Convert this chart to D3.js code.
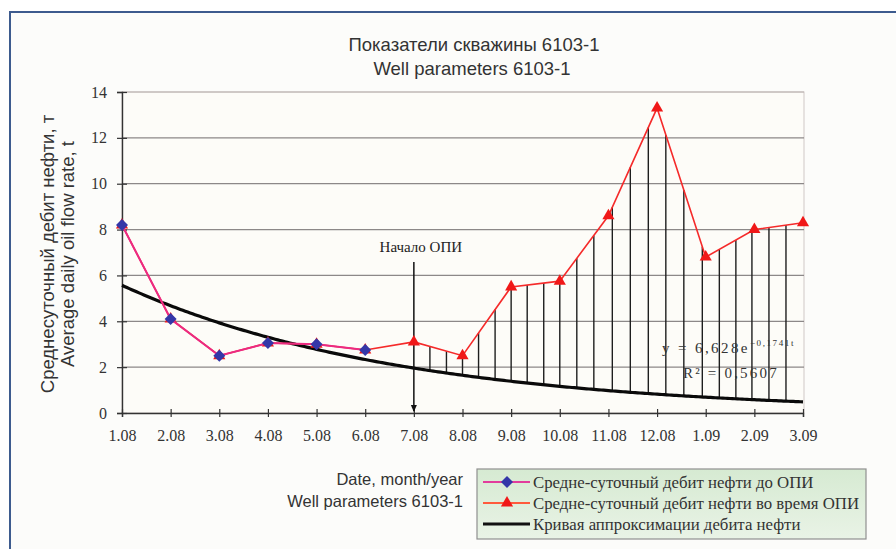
<!DOCTYPE html>
<html>
<head>
<meta charset="utf-8">
<script src="https://cdn.jsdelivr.net/npm/d3@7"></script>
<style>
  html, body { margin: 0; padding: 0; background: #ffffff; }
  svg { display: block; }
</style>
</head>
<body>
<svg id="chart" width="896" height="549"></svg>
<script>
// Months on the x axis
const months = ["1.08","2.08","3.08","4.08","5.08","6.08","7.08","8.08","9.08","10.08","11.08","12.08","1.09","2.09","3.09"];
// Average daily oil rate before the pilot works (first six months)
const rateBefore = [8.2, 4.1, 2.5, 3.05, 3.0, 2.75];
// Average daily oil rate over the whole period, incl. the pilot works
const rateDuring = [8.2, 4.1, 2.5, 3.05, 3.0, 2.75, 3.1, 2.5, 5.5, 5.75, 8.6, 13.3, 6.8, 8.0, 8.3];
// Exponential trend: q = a * exp(-b * t), t = month number
const trendA = 6.628;
const trendB = 0.1741;
const trendR2 = "0,5607";
// Hatch positions (month index) between trend curve and the rate line
const hatchAt = [6.33, 6.67, 7.0, 7.33, 7.67, 8.0, 8.33, 8.67, 9.0, 9.35, 9.7, 10.08, 10.45, 10.82, 11.18, 11.55, 11.93, 12.28, 12.62, 12.95, 13.3, 13.65];
const yTicks = [0, 2, 4, 6, 8, 10, 12, 14];
const pilotStart = 6; // index of 7.08

const svg = d3.select("#chart");
const defs = svg.append("defs");
const serif = "Liberation Serif, 'Times New Roman', serif";
const sans = "Liberation Sans, Arial, sans-serif";

// outer panel
svg.append("rect").attr("x", 10).attr("y", 12).attr("width", 900).attr("height", 560)
  .attr("fill", "#fcfcfa").attr("stroke", "#3d5b8e").attr("stroke-width", 2);

const x = d3.scaleLinear().domain([0, months.length - 1]).range([122, 803]);
const y = d3.scaleLinear().domain([0, 14]).range([413, 92]);

// plot area
svg.append("rect").attr("x", x(0)).attr("y", y(14)).attr("width", x(14) - x(0) + 1).attr("height", y(0) - y(14))
  .attr("fill", "#fdfcf8").attr("stroke", "#cfc8c6").attr("stroke-width", 1);

// horizontal grid
svg.append("g").selectAll("line").data(yTicks.filter(d => d > 0)).join("line")
  .attr("x1", x(0)).attr("x2", x(14) + 1)
  .attr("y1", d => y(d)).attr("y2", d => y(d))
  .attr("stroke", d => d === 14 ? "#b8b0ae" : "#8c8888").attr("stroke-width", 1.2);

// trend curve
const trend = t => trendA * Math.exp(-trendB * (t + 1));
const curvePts = d3.range(0, 14.001, 0.05);
const lineTrend = d3.line().x(d => x(d)).y(d => y(trend(d)));

// rate interpolation for hatching
const rateAt = t => {
  const i = Math.min(Math.floor(t), rateDuring.length - 2);
  const f = t - i;
  return rateDuring[i] + (rateDuring[i + 1] - rateDuring[i]) * f;
};
svg.append("g").selectAll("line").data(hatchAt).join("line")
  .attr("x1", d => x(d)).attr("x2", d => x(d))
  .attr("y1", d => y(rateAt(d))).attr("y2", d => y(trend(d)))
  .attr("stroke", "#1e1e1e").attr("stroke-width", 1.4);

// y axis
const yAxis = svg.append("g").attr("transform", `translate(${x(0)},0)`)
  .call(d3.axisLeft(y).tickValues(yTicks).tickSize(5).tickPadding(10).tickFormat(d3.format("d")));
yAxis.select(".domain").attr("stroke", "#333").attr("stroke-width", 1.4);
yAxis.selectAll(".tick line").attr("x1", -5).attr("x2", 5).attr("stroke", "#333").attr("stroke-width", 1.2);
yAxis.selectAll(".tick text").attr("font-family", serif).attr("font-size", 16).attr("fill", "#333");

// x axis
const xAxis = svg.append("g").attr("transform", `translate(0,${y(0)})`)
  .call(d3.axisBottom(x).tickValues(d3.range(months.length)).tickSize(4).tickPadding(13).tickFormat(i => months[i]));
xAxis.select(".domain").attr("stroke", "#333").attr("stroke-width", 1.4);
xAxis.selectAll(".tick line").attr("y1", -4).attr("y2", 4).attr("stroke", "#333").attr("stroke-width", 1.2);
xAxis.selectAll(".tick text").attr("font-family", serif).attr("font-size", 16).attr("fill", "#333");

// trend curve on top of hatching
svg.append("path").datum(curvePts).attr("d", lineTrend)
  .attr("fill", "none").attr("stroke", "#0a0a0a").attr("stroke-width", 3.2);

// pilot-start marker
svg.append("line").attr("x1", x(pilotStart)).attr("x2", x(pilotStart))
  .attr("y1", 262).attr("y2", y(0) - 2)
  .attr("stroke", "#111").attr("stroke-width", 1.5);
svg.append("path")
  .attr("d", `M${x(pilotStart) - 3},${y(0) - 8} L${x(pilotStart) + 3},${y(0) - 8} L${x(pilotStart)},${y(0) - 1} Z`)
  .attr("fill", "#111");
svg.append("text").attr("x", x(pilotStart) + 7).attr("y", 252).attr("text-anchor", "middle")
  .attr("font-family", serif).attr("font-size", 15).attr("fill", "#222")
  .text("Начало ОПИ");

// rate during pilot works
const lineRate = d3.line().x((d, i) => x(i)).y(d => y(d));
svg.append("path").datum(rateDuring).attr("d", lineRate)
  .attr("fill", "none").attr("stroke", "#f52a2a").attr("stroke-width", 1.6);
const tri = d3.symbol().type(d3.symbolTriangle).size(64);
svg.append("g").selectAll("path").data(rateDuring).join("path")
  .attr("d", tri).attr("transform", (d, i) => `translate(${x(i)},${y(d)})`)
  .attr("fill", "#f01818");

// rate before pilot works
svg.append("path").datum(rateBefore).attr("d", lineRate)
  .attr("fill", "none").attr("stroke", "#ec2a82").attr("stroke-width", 2);
const squareDiamond = {
  draw(ctx, size) {
    const r = Math.sqrt(size / 2);
    ctx.moveTo(0, -r); ctx.lineTo(r, 0); ctx.lineTo(0, r); ctx.lineTo(-r, 0); ctx.closePath();
  }
};
const dia = d3.symbol().type(squareDiamond).size(72);
svg.append("g").selectAll("path").data(rateBefore).join("path")
  .attr("d", dia).attr("transform", (d, i) => `translate(${x(i)},${y(d)})`)
  .attr("fill", "#3437a8");

// trend equation
const eq = svg.append("text").attr("x", 662).attr("y", 353)
  .attr("font-family", serif).attr("font-size", 15).attr("fill", "#333")
  .attr("letter-spacing", 2.4);
eq.append("tspan").text(`y = ${String(trendA).replace(".", ",")}e`);
eq.append("tspan").attr("dy", -7).attr("font-size", 9).attr("letter-spacing", 1.6)
  .text(`\u2212${String(trendB).replace(".", ",")}t`);
svg.append("text").attr("x", 683).attr("y", 378)
  .attr("font-family", serif).attr("font-size", 15).attr("fill", "#333")
  .attr("letter-spacing", 2.2).text(`R² = ${trendR2}`);

// titles
svg.append("text").attr("x", 474).attr("y", 51).attr("text-anchor", "middle")
  .attr("font-family", sans).attr("font-size", 18.5).attr("fill", "#333").text("Показатели скважины 6103-1");
svg.append("text").attr("x", 472).attr("y", 75).attr("text-anchor", "middle")
  .attr("font-family", sans).attr("font-size", 18.5).attr("fill", "#333").text("Well parameters 6103-1");

const yt = svg.append("text").attr("transform", "translate(0,254) rotate(-90)")
  .attr("text-anchor", "middle").attr("font-family", sans).attr("font-size", 18.5).attr("fill", "#333");
yt.append("tspan").attr("x", 0).attr("y", 54).text("Среднесуточный дебит нефти, т");
yt.append("tspan").attr("x", 0).attr("y", 74).text("Average daily oil flow rate, t");

svg.append("text").attr("x", 463).attr("y", 485).attr("text-anchor", "end")
  .attr("font-family", sans).attr("font-size", 16.5).attr("fill", "#333").text("Date, month/year");
svg.append("text").attr("x", 463).attr("y", 507).attr("text-anchor", "end")
  .attr("font-family", sans).attr("font-size", 16.5).attr("fill", "#333").text("Well parameters 6103-1");

// legend
const grad = defs.append("linearGradient").attr("id", "legBg")
  .attr("x1", 0).attr("y1", 0).attr("x2", 0).attr("y2", 1);
grad.append("stop").attr("offset", "0%").attr("stop-color", "#d6ead2");
grad.append("stop").attr("offset", "100%").attr("stop-color", "#e9f3e6");
const leg = svg.append("g").attr("transform", "translate(477,469)");
leg.append("rect").attr("width", 389).attr("height", 70).attr("fill", "url(#legBg)")
  .attr("stroke", "#8f8f8f").attr("stroke-width", 1.2);
const legItems = [
  { label: "Средне-суточный дебит нефти до ОПИ", color: "#e23c9c", mark: dia, markColor: "#3437a8", w: 2 },
  { label: "Средне-суточный дебит нефти во время ОПИ", color: "#ff5a3c", mark: tri, markColor: "#f01818", w: 2 },
  { label: "Кривая аппроксимации дебита нефти", color: "#111", mark: null, w: 3.2 }
];
const row = leg.selectAll("g.row").data(legItems).join("g").attr("class", "row")
  .attr("transform", (d, i) => `translate(0,${13 + i * 21})`);
row.append("line").attr("x1", 6).attr("x2", 53).attr("stroke", d => d.color).attr("stroke-width", d => d.w);
row.filter(d => d.mark).append("path").attr("d", d => d.mark()).attr("transform", "translate(30,0)")
  .attr("fill", d => d.markColor);
row.append("text").attr("x", 56).attr("y", 6)
  .attr("font-family", serif).attr("font-size", 16.8).attr("fill", "#333")
  .text(d => d.label);
</script>
</body>
</html>
